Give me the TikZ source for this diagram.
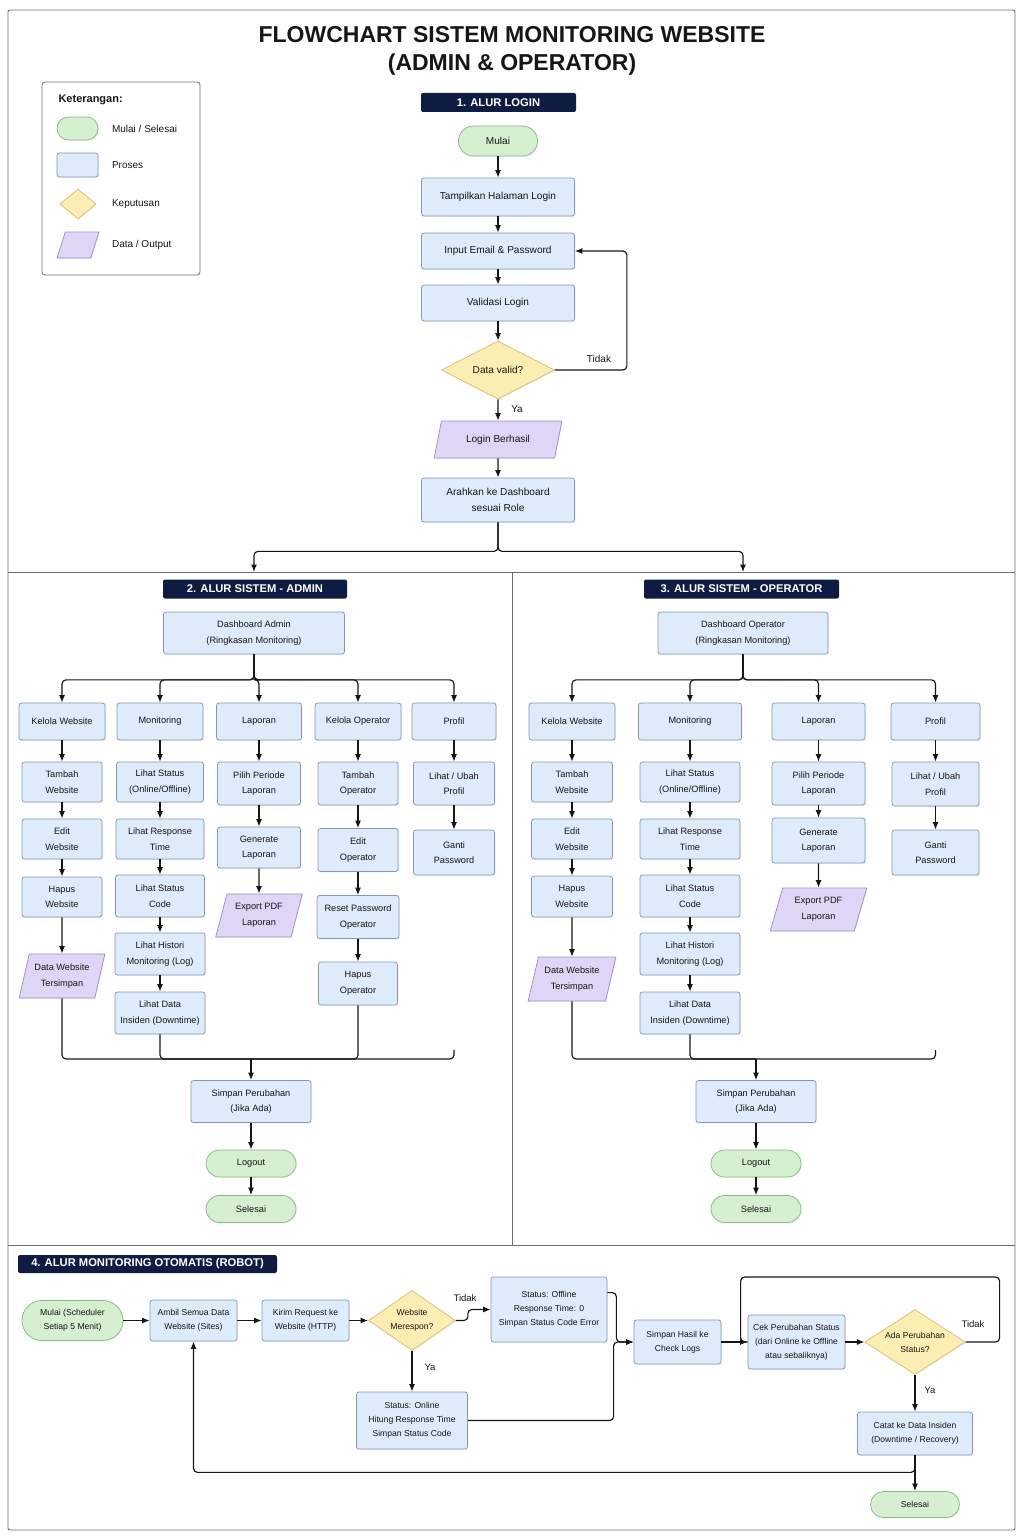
\documentclass[tikz,border=0pt]{standalone}
\usepackage{fontspec}
\setmainfont{Liberation Sans}
\usetikzlibrary{shapes.geometric,shapes.misc,arrows.meta,shadows}

\definecolor{procF}{HTML}{DDEBFB}
\definecolor{procD}{HTML}{8597B5}
\definecolor{termF}{HTML}{D5EFD0}
\definecolor{termD}{HTML}{85BD80}
\definecolor{decF}{HTML}{FCEEB3}
\definecolor{decD}{HTML}{D6BF78}
\definecolor{ioF}{HTML}{DFD5F4}
\definecolor{ioD}{HTML}{A08FCB}
\definecolor{navy}{HTML}{0E1C42}
\definecolor{ink}{HTML}{161616}
\definecolor{framec}{HTML}{6E6E6E}

\tikzset{
 shd/.style={drop shadow={shadow xshift=0.8pt,shadow yshift=-0.9pt,opacity=0.12}},
 base/.style={align=center, inner sep=0pt, text=ink, line width=0.75pt},
 proc/.style={base, rectangle, rounded corners=2.5pt, fill=procF, draw=procD, shd},
 term/.style={base, rounded rectangle, fill=termF, draw=termD, shd},
 dec/.style={base, diamond, aspect=2, fill=decF, draw=decD, shd},
 io/.style={base, inner sep=2pt, trapezium, trapezium left angle=72, trapezium right angle=108, trapezium stretches=true, fill=ioF, draw=ioD, shd},
 hdr/.style={rectangle, rounded corners=2pt, fill=navy, text=white, font=\bfseries\fontsize{11.2}{13}\selectfont, inner sep=0pt},
 sz/.style 2 args={minimum width=#1pt, minimum height=#2pt},
 fA/.style={font=\fontsize{10.1}{16}\selectfont},
 fB/.style={font=\fontsize{9.2}{15.5}\selectfont},
 fC/.style={font=\fontsize{8.6}{14}\selectfont},
 con/.style={draw=ink, line width=1.15pt, rounded corners=4pt},
 arr/.style={con, -{Latex[length=7.5pt,width=6pt]}},
 lbl/.style={text=ink, font=\fontsize{10}{12}\selectfont, inner sep=0pt},
 lblr/.style={text=ink, font=\fontsize{9.5}{12}\selectfont, inner sep=0pt},
}

\begin{document}
\begin{tikzpicture}[x=1pt,y=-1pt]
\fill[white] (0,0) rectangle (1024,1536);
\useasboundingbox (0,0) rectangle (1024,1536);

% frame
\draw[framec, line width=0.9pt, rounded corners=2pt] (8,10) rectangle (1015,1530);
\draw[framec, line width=0.9pt] (8,572) -- (1015,572);
\draw[framec, line width=0.9pt] (512,572) -- (512,1245);
\draw[framec, line width=0.9pt] (8,1245) -- (1015,1245);

% title
\node[font=\bfseries\fontsize{23}{28}\selectfont, text=ink, align=center] (title) at (512,51) {FLOWCHART SISTEM MONITORING WEBSITE\\(ADMIN \& OPERATOR)};

% legend
\node[draw=framec, line width=0.8pt, rounded corners=3pt, sz={158}{193}, fill=white] (leg) at (121,178.5) {};
\node[anchor=west, text=ink, font=\bfseries\fontsize{11}{13}\selectfont] (legt) at (55,100) {Keterangan:};
\node[term, sz={41}{23}] (lg1) at (77.5,128.5) {};
\node[proc, sz={41}{24}] (lg2) at (77.5,165) {};
\node[dec, sz={36}{30}] (lg3) at (78,204) {};
\node[io, sz={42}{26}] (lg4) at (78,245) {};
\node[anchor=west, text=ink, font=\fontsize{10}{12}\selectfont] (lgt1) at (108.5,128.5) {Mulai / Selesai};
\node[anchor=west, text=ink, font=\fontsize{10}{12}\selectfont] (lgt2) at (108.5,165) {Proses};
\node[anchor=west, text=ink, font=\fontsize{10}{12}\selectfont] (lgt3) at (108.5,204) {Keputusan};
\node[anchor=west, text=ink, font=\fontsize{10}{12}\selectfont] (lgt4) at (108.5,244.5) {Data / Output};

% ================= 1. LOGIN
\node[hdr, sz={155}{19}] (h1) at (498.5,102.5) {1. ALUR LOGIN};
\node[term, fA, sz={79}{30}] (mulai) at (498,141) {Mulai};
\node[proc, fA, sz={153}{38}] (tamp) at (498,197) {Tampilkan Halaman Login};
\node[proc, fA, sz={153}{36}] (inp) at (498,251) {Input Email \& Password};
\node[proc, fA, sz={153}{36}] (val) at (498,303) {Validasi Login};
\node[dec, fA, sz={113}{58}] (dv) at (498,370) {Data valid?};
\node[io, fA, sz={128}{37}] (lb) at (498,439.5) {Login Berhasil};
\node[proc, fA, sz={153}{44}] (arah) at (498,500) {Arahkan ke Dashboard\\sesuai Role};

\draw[arr] (mulai.south) -- (tamp.north);
\draw[arr] (tamp.south) -- (inp.north);
\draw[arr] (inp.south) -- (val.north);
\draw[arr] (val.south) -- (dv.north);
\draw[arr] (dv.east) -| ([xshift=52pt]inp.east) -- (inp.east);
\node[lbl] (tdk1) at (599,359) {Tidak};
\draw[arr] (dv.south) -- (lb.north);
\node[lbl] (ya1) at (517,409) {Ya};
\draw[arr] (lb.south) -- (arah.north);
\coordinate (inA) at (254,572);
\coordinate (inO) at (743,572);
\draw[arr] (arah.south) -- ++(0,29) -| (inA);
\draw[arr] (arah.south) -- ++(0,29) -| (inO);

% ================= 2. ADMIN
\node[hdr, sz={184}{19}] (h2) at (255,589) {2. ALUR SISTEM - ADMIN};
\node[proc, fB, sz={181}{42}] (dadm) at (254,633) {Dashboard Admin\\(Ringkasan Monitoring)};

\node[proc, fB, sz={86}{37}] (akw) at (62,721.5) {Kelola Website};
\node[proc, fB, sz={86}{37}] (amon) at (160,721.5) {Monitoring};
\node[proc, fB, sz={85}{37}] (alap) at (259,721.5) {Laporan};
\node[proc, fB, sz={86}{37}] (ako) at (358,721.5) {Kelola Operator};
\node[proc, fB, sz={84}{37}] (apr) at (454,721.5) {Profil};

\foreach \n in {akw,amon,alap,ako,apr}
  \draw[arr] (dadm.south) -- ++(0,25.5) -| (\n.north);

\node[proc, fB, sz={80}{40}] (atw) at (62,782) {Tambah\\Website};
\node[proc, fB, sz={80}{40}] (aew) at (62,839) {Edit\\Website};
\node[proc, fB, sz={80}{40}] (ahw) at (62,897) {Hapus\\Website};
\node[io, fB, sz={86}{44}] (adw) at (62,976) {Data Website\\Tersimpan};
\draw[arr] (akw.south) -- (atw.north);
\draw[arr] (atw.south) -- (aew.north);
\draw[arr] (aew.south) -- (ahw.north);
\draw[arr] (ahw.south) -- (adw.north);

\node[proc, fB, sz={87}{40}] (als) at (160,782) {Lihat Status\\(Online/Offline)};
\node[proc, fB, sz={88}{40}] (alr) at (160,839) {Lihat Response\\Time};
\node[proc, fB, sz={89}{42}] (alc) at (160,896) {Lihat Status\\Code};
\node[proc, fB, sz={90}{42}] (alh) at (160,954) {Lihat Histori\\Monitoring (Log)};
\node[proc, fB, sz={90}{42}] (ald) at (160,1013) {Lihat Data\\Insiden (Downtime)};
\draw[arr] (amon.south) -- (als.north);
\draw[arr] (als.south) -- (alr.north);
\draw[arr] (alr.south) -- (alc.north);
\draw[arr] (alc.south) -- (alh.north);
\draw[arr] (alh.south) -- (ald.north);

\node[proc, fB, sz={83}{43}] (app) at (259,783.5) {Pilih Periode\\Laporan};
\node[proc, fB, sz={83}{41}] (agl) at (259,847.5) {Generate\\Laporan};
\node[io, fB, sz={87}{43}] (aep) at (259,915.5) {Export PDF\\Laporan};
\draw[arr] (alap.south) -- (app.north);
\draw[arr] (app.south) -- (agl.north);
\draw[arr] (agl.south) -- (aep.north);

\node[proc, fB, sz={80}{43}] (ato) at (358,783.5) {Tambah\\Operator};
\node[proc, fB, sz={80}{43}] (aeo) at (358,850) {Edit\\Operator};
\node[proc, fB, sz={82}{43}] (arp) at (358,917) {Reset Password\\Operator};
\node[proc, fB, sz={79}{43}] (aho) at (358,983.5) {Hapus\\Operator};
\draw[arr] (ako.south) -- (ato.north);
\draw[arr] (ato.south) -- (aeo.north);
\draw[arr] (aeo.south) -- (arp.north);
\draw[arr] (arp.south) -- (aho.north);

\node[proc, fB, sz={81}{43}] (alu) at (454,783.5) {Lihat / Ubah\\Profil};
\node[proc, fB, sz={81}{45}] (agp) at (454,852.5) {Ganti\\Password};
\draw[arr] (apr.south) -- (alu.north);
\draw[arr] (alu.south) -- (agp.north);

\coordinate (mA) at (251,1059);
\coordinate (stA) at (454,1050);
\draw[con] (adw.south) |- (mA);
\draw[con] (ald.south) |- (mA);
\draw[con] (aho.south) |- (mA);
\draw[con] (stA) |- (mA);

\node[proc, fB, sz={120}{42}] (asp) at (251,1101.5) {Simpan Perubahan\\(Jika Ada)};
\node[term, fB, sz={90}{27}] (alo) at (251,1163.5) {Logout};
\node[term, fB, sz={90}{27}] (ase) at (251,1209) {Selesai};
\draw[arr] (mA) -- (asp.north);
\draw[arr] (asp.south) -- (alo.north);
\draw[arr] (alo.south) -- (ase.north);

% ================= 3. OPERATOR
\node[hdr, sz={195}{19}] (h3) at (741.5,589) {3. ALUR SISTEM - OPERATOR};
\node[proc, fB, sz={170}{42}] (dop) at (743,633) {Dashboard Operator\\(Ringkasan Monitoring)};

\node[proc, fB, sz={86}{37}] (okw) at (572,721.5) {Kelola Website};
\node[proc, fB, sz={103}{37}] (omon) at (690,721.5) {Monitoring};
\node[proc, fB, sz={93}{37}] (olap) at (818.5,721.5) {Laporan};
\node[proc, fB, sz={89}{37}] (opr) at (935.5,721.5) {Profil};

\foreach \n in {okw,omon,olap,opr}
  \draw[arr] (dop.south) -- ++(0,25.5) -| (\n.north);

\node[proc, fB, sz={81}{40}] (otw) at (572,782) {Tambah\\Website};
\node[proc, fB, sz={81}{40}] (oew) at (572,839) {Edit\\Website};
\node[proc, fB, sz={81}{41}] (ohw) at (572,896.5) {Hapus\\Website};
\node[io, fB, sz={88}{44}] (odw) at (572,979) {Data Website\\Tersimpan};
\draw[arr] (okw.south) -- (otw.north);
\draw[arr] (otw.south) -- (oew.north);
\draw[arr] (oew.south) -- (ohw.north);
\draw[arr] (ohw.south) -- (odw.north);

\node[proc, fB, sz={100}{40}] (ols) at (690,782) {Lihat Status\\(Online/Offline)};
\node[proc, fB, sz={100}{40}] (olr) at (690,839) {Lihat Response\\Time};
\node[proc, fB, sz={100}{42}] (olc) at (690,896) {Lihat Status\\Code};
\node[proc, fB, sz={100}{42}] (olh) at (690,954) {Lihat Histori\\Monitoring (Log)};
\node[proc, fB, sz={100}{42}] (old) at (690,1013) {Lihat Data\\Insiden (Downtime)};
\draw[arr] (omon.south) -- (ols.north);
\draw[arr] (ols.south) -- (olr.north);
\draw[arr] (olr.south) -- (olc.north);
\draw[arr] (olc.south) -- (olh.north);
\draw[arr] (olh.south) -- (old.north);

\node[proc, fB, sz={93}{43}] (opp) at (818.5,783.5) {Pilih Periode\\Laporan};
\node[proc, fB, sz={93}{45}] (ogl) at (818.5,840.5) {Generate\\Laporan};
\node[io, fB, sz={97}{43}] (oep) at (818.5,909.5) {Export PDF\\Laporan};
\draw[arr] (olap.south) -- (opp.north);
\draw[arr] (opp.south) -- (ogl.north);
\draw[arr] (ogl.south) -- (oep.north);

\node[proc, fB, sz={87}{44}] (olu) at (935.5,784) {Lihat / Ubah\\Profil};
\node[proc, fB, sz={87}{45}] (ogp) at (935.5,852.5) {Ganti\\Password};
\draw[arr] (opr.south) -- (olu.north);
\draw[arr] (olu.south) -- (ogp.north);

\coordinate (mO) at (756,1059);
\coordinate (stO) at (935.5,1050);
\draw[con] (odw.south) |- (mO);
\draw[con] (old.south) |- (mO);
\draw[con] (stO) |- (mO);

\node[proc, fB, sz={120}{42}] (osp) at (756,1101.5) {Simpan Perubahan\\(Jika Ada)};
\node[term, fB, sz={90}{27}] (olo) at (756,1163.5) {Logout};
\node[term, fB, sz={90}{27}] (ose) at (756,1209) {Selesai};
\draw[arr] (mO) -- (osp.north);
\draw[arr] (osp.south) -- (olo.north);
\draw[arr] (olo.south) -- (ose.north);

% ================= 4. ROBOT
\node[hdr, sz={259}{18}] (h4) at (147.5,1264) {4. ALUR MONITORING OTOMATIS (ROBOT)};
\node[term, fC, sz={101}{40}] (rm) at (72.5,1320.5) {Mulai (Scheduler\\Setiap 5 Menit)};
\node[proc, fC, sz={87}{41}] (ra) at (193.5,1320.5) {Ambil Semua Data\\Website (Sites)};
\node[proc, fC, sz={87}{41}] (rk) at (305.5,1320.5) {Kirim Request ke\\Website (HTTP)};
\node[dec, fC, sz={76}{60}] (rd) at (412,1320.5) {Website\\Merespon?};
\node[proc, fC, sz={116}{65}] (roff) at (549,1309.5) {Status: Offline\\Response Time: 0\\Simpan Status Code Error};
\node[proc, fC, sz={111}{57}] (ron) at (412,1420.5) {Status: Online\\Hitung Response Time\\Simpan Status Code};
\node[proc, fC, sz={87}{44}] (rs) at (677.5,1342) {Simpan Hasil ke\\Check Logs};
\node[proc, fC, sz={97}{54}] (rc) at (796.5,1342) {Cek Perubahan Status\\(dari Online ke Offline\\atau sebaliknya)};
\node[dec, fC, sz={95}{65}] (rad) at (915,1342) {Ada Perubahan\\Status?};
\node[proc, fC, sz={115}{43}] (rct) at (915,1433.5) {Catat ke Data Insiden\\(Downtime / Recovery)};
\node[term, fC, sz={89}{26}] (rse) at (915,1504.5) {Selesai};

\draw[arr] (rm.east) -- (ra.west);
\draw[arr] (ra.east) -- (rk.west);
\draw[arr] (rk.east) -- (rd.west);
\draw[arr] (rd.east) -- ++(12,0) |- (roff.west);
\node[lblr] (tdk2) at (465,1298) {Tidak};
\draw[arr] (rd.south) -- (ron.north);
\node[lblr] (ya2) at (430,1367) {Ya};
\draw[arr] ([yshift=-16pt]roff.north east) -- ++(9,0) |- (rs.west);
\draw[arr] (ron.east) -| ([xshift=-20pt]rs.west) -- (rs.west);
\draw[arr] (rs.east) -- (rc.west);
\draw[arr] (rc.east) -- (rad.west);
\draw[con] (rad.east) -- ++(34,0) |- ([xshift=-7pt,yshift=65pt]rc.west) -- ([xshift=-7pt]rc.west) -- (rc.west);
\node[lblr] (tdk3) at (973,1324) {Tidak};
\draw[arr] (rad.south) -- (rct.north);
\node[lblr] (ya3) at (930,1390) {Ya};
\draw[arr] (rct.south) -- (rse.north);
\draw[arr] (rct.south) -- ++(0,17) -| (ra.south);
\end{tikzpicture}
\end{document}
